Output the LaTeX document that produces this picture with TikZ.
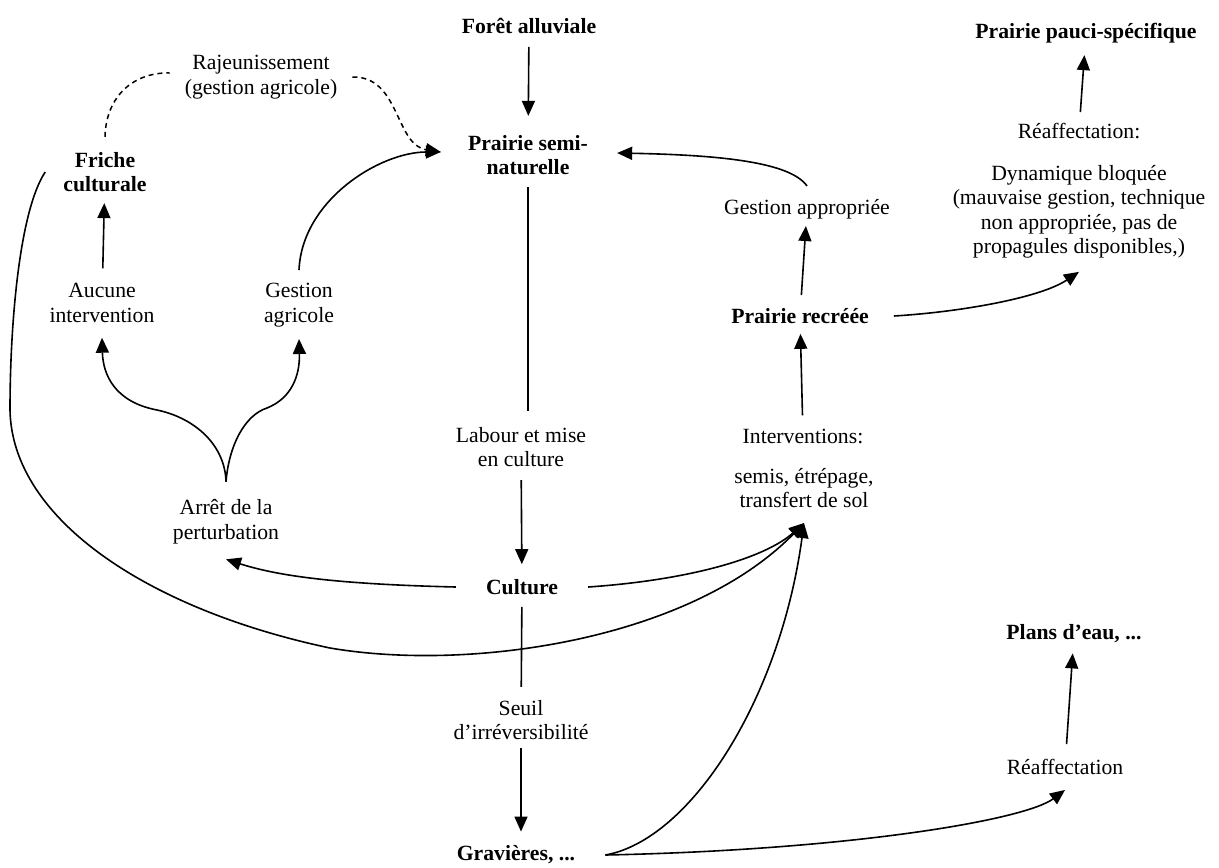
\documentclass[tikz,border=0pt]{standalone}
\usepackage{fontspec}
\setmainfont{Liberation Serif}
\usetikzlibrary{arrows.meta}

\begin{document}
\begin{tikzpicture}[x=1pt,y=-1pt,
  every node/.style={align=center,inner sep=0pt,font=\fontsize{21.7}{24.5}\selectfont},
  etat/.style={font=\fontsize{21.7}{24.5}\selectfont\bfseries},
  trait/.style={line width=1.6pt},
  fleche/.style={line width=1.6pt,-{Triangle[length=15pt,width=13pt]}},
  tiret/.style={line width=1.5pt,dash pattern=on 5pt off 4pt}]
\useasboundingbox (0,0) rectangle (1219,868);

\node[etat] (foret) at (529,26) {Forêt alluviale};
\node[etat] (psn) at (528,155) {Prairie semi-\\naturelle};
\node[etat] (friche) at (105,172) {Friche\\culturale};
\node (rajeun) at (261,77) {Rajeunissement\\(gestion agricole)};
\node (aucune) at (102,303) {Aucune\\intervention};
\node (gestagr) at (299,305) {Gestion\\agricole};
\node (arret) at (226,522) {Arrêt de la\\perturbation};
\node (labour) at (521,447) {Labour et mise\\en culture};
\node[etat] (culture) at (522,587) {Culture};
\node (seuil) at (521,720) {Seuil\\d’irréversibilité};
\node[etat] (gravieres) at (516,855) {Gravières, ...};
\node (gestapp) at (807,209) {Gestion appropriée};
\node[etat] (precree) at (800,316) {Prairie recréée};
\node (intervtxt) at (803,436) {Interventions:};
\node (intervlist) at (804,488) {semis, étrépage,\\transfert de sol};
\node[etat] (ppauci) at (1086,33) {Prairie pauci-spécifique};
\node (reafftxt) at (1079,131) {Réaffectation:};
\node (dynbloq) at (1079,212) {Dynamique bloquée\\(mauvaise gestion, technique\\non appropriée, pas de\\propagules disponibles,)};
\node[etat] (plans) at (1074,634) {Plans d’eau, ...};
\node (reaff) at (1065,767) {Réaffectation};

\draw[fleche,shorten <=13pt,shorten >=19pt] (foret) -- (psn);
\draw[trait,shorten <=12pt,shorten >=16pt] (psn) -- (psn |- labour.north);
\draw[fleche,shorten <=13pt,shorten >=15pt] (labour) -- (culture);
\draw[trait,shorten <=12pt,shorten >=13pt] (culture) -- (seuil);
\draw[fleche,shorten <=8pt,shorten >=14pt] (seuil) -- (seuil |- gravieres.north);

\draw[fleche] ([xshift=-30pt]culture.west) .. controls (330,584) and (275,575) .. ([yshift=-15pt]arret.south);
\draw[fleche] ([yshift=18pt]arret.north) .. controls (225,445) and (195,418) .. (157,410)
  .. controls (115,402) and (103,375) .. ([yshift=-15pt]aucune.south);
\draw[fleche] ([yshift=18pt]arret.north) .. controls (229,445) and (245,415) .. (267,408)
  .. controls (292,398) and (300,375) .. ([yshift=-12pt]gestagr.south);
\draw[fleche,shorten <=15pt,shorten >=11pt] (aucune) -- (friche);
\draw[fleche] ([yshift=13pt]gestagr.north) .. controls (302,200) and (380,152) .. ([shift={(-27pt,3pt)}]psn.west);
\draw[tiret] ([yshift=15pt]friche.north) .. controls (106,95) and (135,72) .. ([shift={(-15pt,4pt)}]rajeun.west);
\draw[tiret,-{Triangle[length=15pt,width=13pt]}] ([xshift=15pt]rajeun.east) .. controls (400,76) and (395,145) .. ([shift={(-27pt,3pt)}]psn.west);

\draw[fleche] ([xshift=30pt]culture.east) .. controls (690,580) and (765,558) .. ([yshift=-15pt]intervlist.south);
\draw[fleche] ([xshift=-18pt]friche.west) .. controls (20,210) and (10,320) .. (10,410)
  .. controls (12,520) and (150,610) .. (330,648)
  .. controls (470,672) and (690,640) .. ([yshift=-15pt]intervlist.south);
\draw[fleche] ([xshift=30pt]gravieres.east) .. controls (690,840) and (780,700) .. ([yshift=-15pt]intervlist.south);
\draw[fleche] ([xshift=30pt]gravieres.east) .. controls (850,850) and (1025,820) .. ([yshift=-15pt]reaff.south);
\draw[fleche,shorten <=15pt,shorten >=10pt] (reaff) -- (plans);

\draw[fleche,shorten <=13pt,shorten >=10pt] (intervtxt) -- (precree);
\draw[fleche,shorten <=13pt,shorten >=7pt] (precree) -- (gestapp);
\draw[fleche] ([yshift=13pt]gestapp.north) .. controls (790,162) and (720,155) .. ([shift={(29pt,2pt)}]psn.east);
\draw[fleche] ([xshift=25pt]precree.east) .. controls (960,312) and (1040,298) .. ([yshift=-13pt]dynbloq.south);
\draw[fleche,shorten <=11pt,shorten >=12pt] (reafftxt) -- (ppauci);
\end{tikzpicture}
\end{document}
